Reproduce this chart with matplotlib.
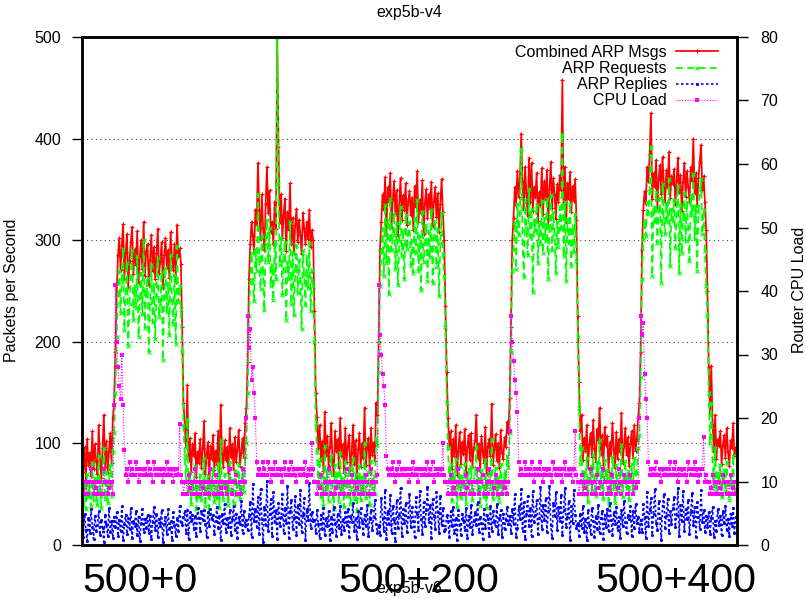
import matplotlib
matplotlib.use('Agg')
import matplotlib.pyplot as plt
import numpy as np

plt.rcParams['font.family'] = ['Liberation Sans', 'DejaVu Sans']

### Data (one sample per second; rows follow the low/high phases)
combined = [88, 72, 96, 64, 104, 79, 91, 68, 112, 75, 99, 83, 70,
            118, 86, 66, 95, 128, 77, 102, 71, 93, 110, 81, 125, 140,
            190, 248, 285, 302, 271, 295, 316, 262, 288, 306, 254, 280, 298,
            313, 267, 291, 276, 309, 258, 284, 300, 272, 318, 265, 289, 296,
            256, 281, 305, 270, 293, 262, 287, 311, 268, 279, 298, 253, 285,
            302, 274, 290, 263, 308, 282, 271, 296, 259, 315, 284, 292, 277,
            215, 140, 118, 96, 157, 84, 105, 72, 99, 88, 110, 67, 92,
            81, 104, 76, 95, 122, 70, 88, 101, 63, 97, 85, 108, 74,
            93, 79, 112, 68, 138, 90, 77, 103, 84, 96, 71, 115, 87,
            99, 74, 106, 82, 94, 113, 78, 91, 105, 86, 120, 135,
            180, 262, 296, 318, 304, 288, 330, 315, 376, 330, 301, 345, 312,
            290, 336, 372, 327, 349, 308, 318, 296, 338, 311, 500, 392, 318,
            345, 302, 325, 341, 289, 328, 310, 356, 296, 322, 287, 315, 331,
            298, 320, 305, 286, 327, 312, 296, 318, 301, 330, 293, 310, 300,
            230, 150, 126, 95, 118, 84, 102, 73, 131, 89, 107, 78, 96,
            120, 85, 68, 112, 93, 104, 76, 125, 88, 99, 71, 115, 82,
            97, 108, 74, 91, 118, 80, 103, 66, 94, 110, 77, 100, 86,
            135, 79, 96, 105, 72, 115, 89, 101, 83, 140, 128,
            200, 290, 318, 345, 330, 362, 305, 352, 338, 366, 312, 341, 358,
            326, 349, 304, 335, 361, 320, 344, 330, 356, 315, 339, 348, 325,
            342, 310, 353, 333, 368, 318, 340, 327, 359, 306, 337, 350, 322,
            345, 331, 357, 314, 339, 352, 323, 346, 308, 336, 360, 328, 300,
            235, 170, 125, 98, 112, 75, 104, 88, 118, 69, 93, 111, 80,
            101, 90, 114, 72, 96, 108, 84, 110, 77, 95, 103, 128, 86,
            99, 73, 107, 92, 81, 116, 70, 97, 104, 88, 139, 79, 94,
            109, 83, 100, 76, 113, 91, 85, 106, 96, 121, 110, 145,
            215, 300, 322, 352, 335, 368, 343, 361, 405, 357, 330, 372, 346,
            324, 381, 338, 376, 329, 352, 343, 366, 319, 347, 335, 371, 326,
            358, 340, 369, 315, 350, 377, 332, 361, 344, 321, 355, 338, 364,
            349, 458, 336, 372, 318, 356, 341, 367, 328, 353, 339, 360, 320,
            225, 160, 112, 128, 84, 105, 93, 118, 76, 99, 110, 87, 123,
            95, 82, 114, 103, 135, 90, 108, 79, 116, 98, 107, 72, 101,
            88, 120, 94, 76, 111, 85, 104, 92, 130, 81, 97, 115, 89,
            106, 78, 99, 112, 86, 118, 93, 104, 125, 140,
            190, 290, 330, 348, 336, 372, 358, 385, 425, 341, 366, 352, 379,
            333, 361, 374, 345, 382, 356, 338, 369, 351, 387, 342, 363, 355,
            370, 336, 359, 381, 347, 364, 329, 357, 376, 343, 368, 352, 339,
            372, 358, 400, 346, 366, 335, 361, 377, 394, 349, 363, 338, 310,
            250, 175, 130, 176, 118, 92, 128, 85, 104, 97, 112, 80, 98,
            108, 86, 115, 92, 78, 103, 95, 120, 88, 96]

requests = [52, 40, 61, 35, 70, 47, 58, 38, 81, 44, 66, 50, 39,
            88, 55, 36, 63, 95, 45, 72, 41, 60, 79, 48, 92, 110,
            150, 205, 246, 270, 228, 259, 291, 212, 248, 278, 196, 237, 265,
            290, 221, 255, 233, 284, 205, 243, 268, 227, 300, 214, 252, 263,
            190, 238, 276, 219, 257, 203, 246, 282, 224, 236, 269, 182, 244,
            273, 229, 258, 207, 285, 241, 218, 266, 198, 294, 239, 255, 232,
            190, 118, 88, 62, 124, 52, 71, 40, 63, 55, 78, 35, 58,
            47, 69, 44, 60, 86, 38, 55, 68, 31, 62, 50, 75, 42,
            58, 46, 80, 36, 103, 57, 44, 70, 51, 61, 39, 82, 53,
            64, 41, 73, 49, 59, 80, 45, 56, 72, 52, 88, 100,
            150, 225, 258, 287, 262, 240, 291, 270, 345, 283, 252, 304, 268,
            231, 296, 320, 279, 312, 255, 276, 241, 298, 262, 500, 355, 276,
            302, 246, 285, 298, 221, 279, 262, 318, 237, 288, 226, 270, 295,
            248, 281, 259, 213, 290, 266, 236, 284, 253, 297, 230, 271, 255,
            200, 120, 92, 58, 85, 47, 69, 38, 97, 55, 74, 43, 62,
            88, 51, 35, 79, 60, 71, 42, 91, 54, 66, 37, 82, 48,
            63, 76, 40, 57, 85, 45, 70, 33, 61, 78, 44, 67, 52,
            100, 46, 63, 72, 39, 83, 56, 68, 50, 105, 98,
            170, 255, 288, 312, 265, 335, 278, 320, 247, 341, 290, 305, 326,
            272, 317, 256, 299, 333, 284, 310, 262, 325, 291, 306, 318, 275,
            300, 268, 322, 287, 340, 270, 304, 251, 328, 279, 296, 315, 260,
            309, 283, 330, 258, 301, 319, 274, 311, 245, 297, 327, 286, 265,
            215, 140, 95, 62, 80, 43, 71, 54, 85, 37, 59, 78, 46,
            68, 57, 81, 40, 63, 75, 51, 77, 44, 62, 70, 96, 53,
            66, 38, 74, 58, 47, 84, 36, 64, 72, 55, 104, 45, 61,
            76, 49, 67, 42, 80, 58, 51, 73, 63, 88, 77, 110,
            190, 270, 291, 318, 272, 336, 305, 327, 390, 298, 264, 340, 312,
            285, 350, 303, 331, 249, 320, 309, 335, 278, 316, 296, 339, 287,
            322, 299, 341, 262, 315, 344, 290, 328, 306, 268, 318, 293, 333,
            311, 405, 284, 338, 260, 321, 297, 336, 275, 314, 288, 326, 280,
            205, 135, 80, 95, 50, 72, 60, 86, 42, 66, 78, 54, 90,
            62, 48, 82, 70, 103, 57, 75, 45, 84, 65, 74, 38, 68,
            55, 87, 61, 41, 79, 52, 71, 59, 98, 47, 64, 83, 56,
            73, 44, 66, 80, 53, 86, 60, 71, 95, 108,
            165, 262, 300, 320, 304, 338, 326, 351, 392, 265, 333, 318, 347,
            297, 329, 342, 258, 355, 322, 306, 337, 318, 360, 275, 331, 319,
            340, 292, 327, 353, 268, 335, 287, 321, 346, 299, 338, 312, 280,
            344, 325, 365, 301, 334, 270, 328, 349, 360, 306, 330, 289, 255,
            225, 150, 100, 140, 85, 58, 95, 52, 71, 64, 79, 47, 65,
            74, 53, 82, 60, 44, 69, 58, 88, 51, 62]

replies = [22, 8, 31, 15, 4, 27, 12, 35, 18, 6, 29, 14, 20,
           33, 10, 25, 17, 3, 30, 21, 9, 36, 13, 24, 7, 28,
           18, 32, 9, 25, 14, 38, 5, 21, 30, 11, 27, 16, 36,
           7, 24, 19, 33, 10, 28, 4, 22, 35, 13, 26, 17, 30,
           12, 29, 6, 23, 37, 15, 31, 8, 26, 19, 34, 3, 21,
           28, 11, 35, 16, 24, 5, 32, 20, 9, 27, 14, 38, 23,
           20, 28, 33, 12, 34, 6, 32, 24, 30, 16, 29, 9, 36,
           27, 14, 33, 25, 34, 21, 8, 32, 19, 35, 26, 30, 11,
           24, 37, 17, 29, 5, 31, 22, 40, 13, 27, 18, 34, 10,
           26, 38, 15, 31, 7, 28, 21, 43, 12, 33, 19, 25,
           15, 29, 42, 8, 60, 24, 35, 18, 47, 11, 55, 26, 3,
           37, 20, 63, 14, 31, 45, 9, 52, 23, 34, 6, 41, 19,
           28, 50, 12, 36, 22, 58, 7, 33, 44, 16, 27, 48, 10,
           39, 21, 54, 13, 30, 46, 5, 35, 25, 61, 17, 32, 24,
           25, 12, 34, 21, 7, 30, 16, 36, 10, 27, 19, 33, 5,
           28, 13, 37, 22, 9, 31, 17, 38, 11, 26, 15, 32, 20,
           35, 8, 29, 23, 41, 14, 27, 6, 33, 18, 36, 24, 11,
           30, 19, 39, 9, 26, 34, 15, 28, 44, 21, 12,
           20, 10, 46, 27, 14, 54, 6, 33, 21, 49, 12, 38, 25,
           4, 44, 17, 30, 56, 9, 35, 22, 41, 13, 28, 50, 18,
           37, 24, 8, 47, 31, 15, 53, 26, 11, 42, 19, 34, 57,
           23, 39, 7, 45, 29, 16, 52, 32, 12, 48, 20, 36, 14,
           16, 30, 24, 8, 33, 19, 37, 12, 27, 5, 34, 21, 10,
           31, 25, 15, 36, 7, 29, 18, 39, 11, 24, 32, 20, 42,
           13, 28, 22, 6, 35, 17, 30, 26, 9, 38, 14, 33, 23,
           19, 40, 11, 27, 34, 8, 31, 16, 25, 37, 21, 29,
           12, 35, 21, 50, 8, 17, 38, 26, 55, 14, 42, 6, 31,
           48, 19, 36, 9, 53, 23, 30, 44, 11, 27, 57, 16, 39,
           25, 46, 13, 33, 58, 20, 7, 41, 29, 52, 15, 37, 24,
           49, 10, 34, 56, 18, 28, 43, 5, 38, 22, 54, 30, 17,
           22, 9, 31, 17, 38, 13, 26, 5, 34, 20, 11, 36, 24,
           8, 29, 16, 39, 12, 27, 33, 6, 30, 18, 35, 14, 41,
           25, 10, 32, 21, 37, 15, 28, 7, 34, 19, 43, 23, 12,
           30, 26, 38, 9, 33, 17, 40, 22, 28, 13,
           25, 13, 40, 28, 7, 52, 19, 34, 46, 10, 31, 55, 22,
           15, 43, 27, 5, 38, 50, 17, 29, 45, 12, 33, 21, 36,
           47, 18, 30, 56, 9, 39, 24, 53, 14, 35, 26, 44, 11,
           32, 51, 20, 37, 8, 42, 28, 16, 54, 23, 34, 13, 29,
           18, 32, 11, 27, 37, 8, 24, 14, 35, 20, 29, 10, 33,
           22, 38, 15, 26, 9, 31, 19, 36, 12, 28]

cpu_load = [10, 10, 8, 10, 8, 8, 10, 12, 10, 8, 10, 9, 8,
            10, 10, 8, 8, 12, 10, 10, 8, 9, 10, 10, 8, 22,
            41, 32, 28, 25, 23, 30, 22, 15, 11, 12, 10, 13, 11,
            12, 11, 11, 13, 12, 10, 11, 12, 12, 11, 12, 11, 13,
            11, 12, 11, 10, 13, 12, 11, 11, 12, 12, 11, 10, 12,
            11, 13, 11, 12, 11, 12, 10, 12, 11, 12, 11, 19, 11,
            10, 8, 10, 10, 8, 11, 9, 10, 8, 10, 12, 8, 10,
            10, 8, 10, 9, 10, 8, 8, 10, 8, 12, 10, 10, 8,
            11, 10, 8, 10, 9, 8, 10, 10, 9, 8, 10, 12, 10,
            8, 10, 10, 11, 8, 8, 10, 8, 12, 10, 10, 20,
            36, 31, 34, 26, 28, 24, 20, 13, 11, 12, 11, 11, 13,
            12, 11, 11, 13, 12, 10, 11, 12, 13, 11, 11, 12, 12,
            11, 10, 12, 13, 11, 11, 12, 11, 13, 11, 12, 11, 10,
            12, 12, 11, 11, 12, 11, 13, 10, 11, 12, 11, 16, 12,
            10, 10, 8, 10, 9, 11, 8, 8, 10, 8, 10, 12, 10,
            8, 10, 10, 8, 9, 10, 10, 8, 10, 10, 8, 10, 12,
            10, 8, 10, 11, 10, 8, 10, 9, 10, 8, 8, 10, 8,
            10, 11, 10, 8, 8, 12, 10, 8, 10, 10, 11,
            41, 33, 30, 27, 25, 22, 14, 12, 11, 11, 12, 13, 11,
            10, 12, 11, 13, 11, 12, 11, 11, 12, 12, 11, 10, 12,
            11, 13, 11, 12, 11, 10, 12, 12, 11, 11, 12, 11, 13,
            11, 12, 11, 13, 10, 11, 12, 11, 12, 11, 12, 16, 11,
            10, 10, 8, 10, 11, 8, 10, 9, 8, 10, 12, 10, 8,
            10, 10, 8, 11, 9, 10, 8, 8, 10, 8, 10, 10, 12,
            8, 10, 10, 11, 8, 8, 10, 8, 12, 10, 10, 8, 9,
            11, 10, 8, 10, 10, 8, 10, 9, 10, 8, 10, 18,
            36, 32, 29, 26, 24, 21, 13, 11, 12, 11, 11, 13, 12,
            11, 11, 12, 13, 11, 10, 12, 11, 11, 12, 13, 11, 10,
            12, 11, 12, 11, 12, 11, 10, 13, 12, 11, 11, 12, 12,
            11, 10, 12, 13, 11, 11, 12, 11, 12, 10, 12, 18, 11,
            10, 8, 10, 11, 8, 10, 9, 8, 10, 10, 12, 8, 10,
            10, 8, 11, 9, 10, 8, 8, 12, 10, 10, 8, 9, 10,
            8, 11, 10, 10, 8, 9, 12, 10, 8, 10, 11, 10, 8,
            8, 10, 11, 10, 8, 10, 9, 10, 10, 20,
            36, 33, 35, 27, 23, 20, 13, 11, 12, 11, 12, 11, 13,
            11, 11, 12, 10, 12, 11, 12, 11, 11, 12, 13, 11, 11,
            12, 13, 11, 10, 12, 11, 12, 11, 12, 11, 10, 13, 12,
            11, 11, 12, 13, 11, 12, 10, 11, 12, 12, 17, 10, 11,
            10, 10, 8, 9, 11, 8, 10, 10, 8, 10, 9, 8, 11,
            10, 10, 8, 10, 8, 11, 8, 9, 10, 8]

xtick_pos = [0, 200, 400]
xtick_labels = ["500+0", "500+200", "500+400"]
###

assert len(combined) == len(requests) == len(replies) == len(cpu_load), \
    (len(combined), len(requests), len(replies), len(cpu_load))
t = np.arange(len(combined))

fig = plt.figure(figsize=(8.06, 5.99), dpi=100)
ax = fig.add_axes([82/806, 54/599, 655/806, 508/599])

ax.plot(t, combined, color='#ff0000', lw=1.25, marker='+', ms=3, mew=0.8, label='Combined ARP Msgs')
ax.plot(t, requests, color='#00ff00', lw=1.25, ls=(0, (4, 2.5)), marker='x', ms=2.5, mew=0.8, label='ARP Requests')
ax.plot(t, replies, color='#0000ff', lw=1.2, ls=(0, (1.5, 1.5)), marker='.', ms=2.5, label='ARP Replies')

ax2 = ax.twinx()
ax2.plot(t, cpu_load, color='#ff00ff', lw=0.8, ls=(0, (1, 1.5)), marker='s', ms=3.2, mew=0, label='CPU Load')

ax.set_xlim(0, 510)
ax.set_ylim(0, 500)
ax2.set_ylim(0, 80)
ax.set_yticks(range(0, 501, 100))
ax2.set_yticks(range(0, 81, 10))
ax.yaxis.grid(True, ls=(0, (1, 3)), color='#444444', lw=0.8)

ax.set_xticks(xtick_pos)
ax.set_xticklabels(xtick_labels, fontsize=29.5, ha='left')
ax.tick_params(axis='x', length=0, pad=12)
ax.tick_params(axis='y', direction='out', length=7, width=1, labelsize=11.5, pad=8)
ax2.tick_params(axis='y', direction='out', length=8, width=1, labelsize=11.5, pad=9)

for a in (ax, ax2):
    for s in a.spines.values():
        s.set_linewidth(1.8)

fig.text(409/806, 1 - 12/599, "exp5b-v4", ha='center', va='center', fontsize=11.5)
fig.text(409/806, 1 - 588/599, "exp5b-v6", ha='center', va='center', fontsize=11.5)
fig.text(12/806, 1 - 290/599, "Packets per Second", rotation=90, ha='center', va='center', fontsize=11.5)
fig.text(800/806, 1 - 290/599, "Router CPU Load", rotation=90, ha='center', va='center', fontsize=11.5)

# legend: text on the left, sample on the right (gnuplot style)
h1, l1 = ax.get_legend_handles_labels()
h2, l2 = ax2.get_legend_handles_labels()
ax2.legend(h1 + h2, l1 + l2, loc='upper right', bbox_to_anchor=(1 - 19/655, 1 - 8/508),
           frameon=False, markerfirst=False, fontsize=11.5, handlelength=2.6,
           handletextpad=0.6, labelspacing=0.07, borderaxespad=0, borderpad=0)

plt.savefig("out.png", dpi=100)
